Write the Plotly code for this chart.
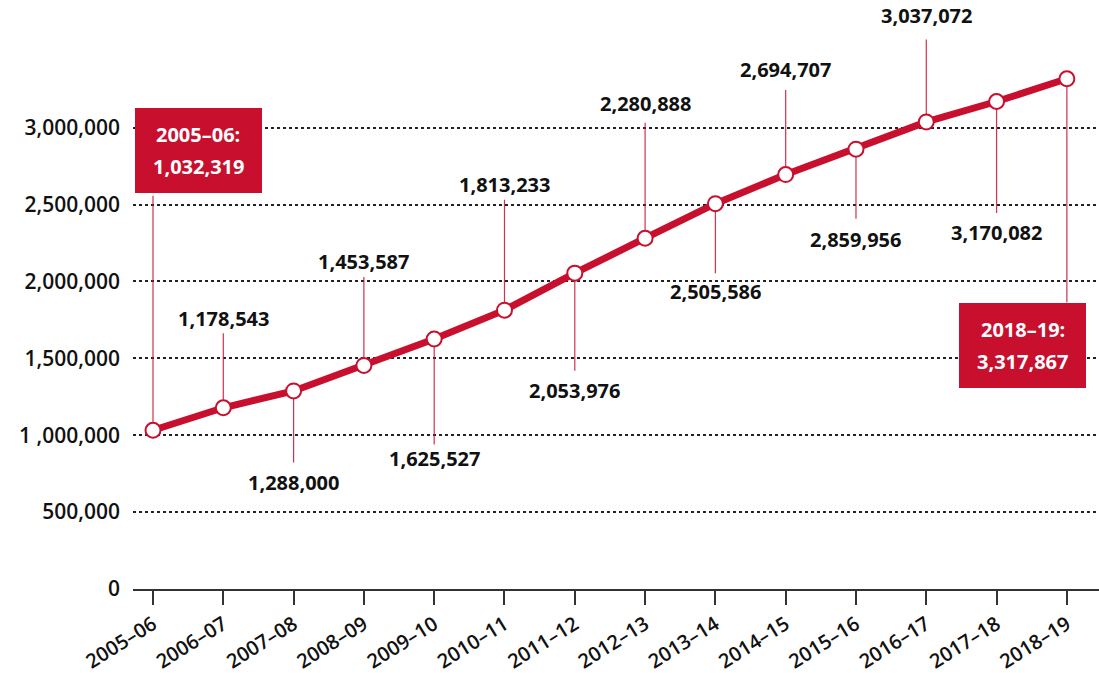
import plotly.graph_objects as go

years = ["2005–06", "2006–07", "2007–08", "2008–09", "2009–10", "2010–11", "2011–12",
         "2012–13", "2013–14", "2014–15", "2015–16", "2016–17", "2017–18", "2018–19"]
values = [1032319, 1178543, 1288000, 1453587, 1625527, 1813233, 2053976,
          2280888, 2505586, 2694707, 2859956, 3037072, 3170082, 3317867]
y_ticks = [0, 500000, 1000000, 1500000, 2000000, 2500000, 3000000]
y_tick_text = ["0", "500,000", "1 ,000,000", "1,500,000", "2,000,000", "2,500,000", "3,000,000"]

# callout layout (pixels, positive = up): leader line length, label offset
line_len = [236, 76, -73, 90, -107, 112, -99, 117, -71, 86, -71, 84, -113, -225]
label_dy = [280, 89, -92, 104, -119, 126, -117, 135, -88, 105, -90, 106, -131, -267]
label_dx = [45, 0, 0, 0, 0, 0, 0, 0, 0, 0, 0, 0, 0, -44]
boxed = [0, 13]

RED = "#C8102E"
FONT = "Open Sans"

fig = go.Figure()
fig.add_trace(go.Scatter(
    x=years, y=values, mode="lines+markers",
    line=dict(color=RED, width=7),
    marker=dict(size=15, color="white", line=dict(color=RED, width=2)),
    hoverinfo="skip", cliponaxis=False,
))

annotations = []
for i, (yr, v) in enumerate(zip(years, values)):
    annotations.append(dict(
        x=yr, y=v, xref="x", yref="y", text="", showarrow=True,
        ax=0, ay=-line_len[i], axref="pixel", ayref="pixel",
        arrowhead=0, arrowwidth=1.2, arrowcolor="rgba(200,16,46,0.85)",
        standoff=8,
    ))
    label = f"{v:,}"
    if i in boxed:
        annotations.append(dict(
            x=yr, y=v, xref="x", yref="y", showarrow=False, text=" ",
            xshift=label_dx[i], yshift=label_dy[i],
            bgcolor=RED, width=127, height=85, borderpad=0, borderwidth=0,
            font=dict(family=FONT, size=19, color="white"),
        ))
        for k, t in enumerate([f"{yr}:", label]):
            annotations.append(dict(
                x=yr, y=v, xref="x", yref="y", showarrow=False, text=t,
                xshift=label_dx[i], yshift=label_dy[i] + 16 - 32 * k,
                font=dict(family=FONT, size=20, color="white", weight=700),
            ))
    else:
        annotations.append(dict(
            x=yr, y=v, xref="x", yref="y", showarrow=False,
            text=label, xshift=label_dx[i], yshift=label_dy[i],
            font=dict(family=FONT, size=20, color="#111111", weight=700),
        ))

fig.update_layout(
    width=1099, height=673,
    margin=dict(l=133, r=0, t=0, b=84),
    paper_bgcolor="white", plot_bgcolor="white",
    showlegend=False,
    annotations=annotations,
    xaxis=dict(
        type="category", range=[-0.2845, 13.457],
        showgrid=False, showline=True, linecolor="#333333", linewidth=2,
        ticks="outside", ticklen=14, tickwidth=1.5, tickcolor="#333333",
        tickangle=-32, tickfont=dict(family=FONT, size=20, color="#111111", weight=600),
    ),
    yaxis=dict(
        range=[0, 3830000], tickvals=y_ticks, ticktext=y_tick_text,
        showgrid=True, gridcolor="#222222", griddash="dot", gridwidth=1.5,
        zeroline=False, showline=False, ticks="", ticklabelstandoff=12,
        tickfont=dict(family=FONT, size=21, color="#111111", weight=600),
    ),
)

fig.write_html("out.html", config={"displayModeBar": False},
               post_script="document.body.style.margin='0';")
